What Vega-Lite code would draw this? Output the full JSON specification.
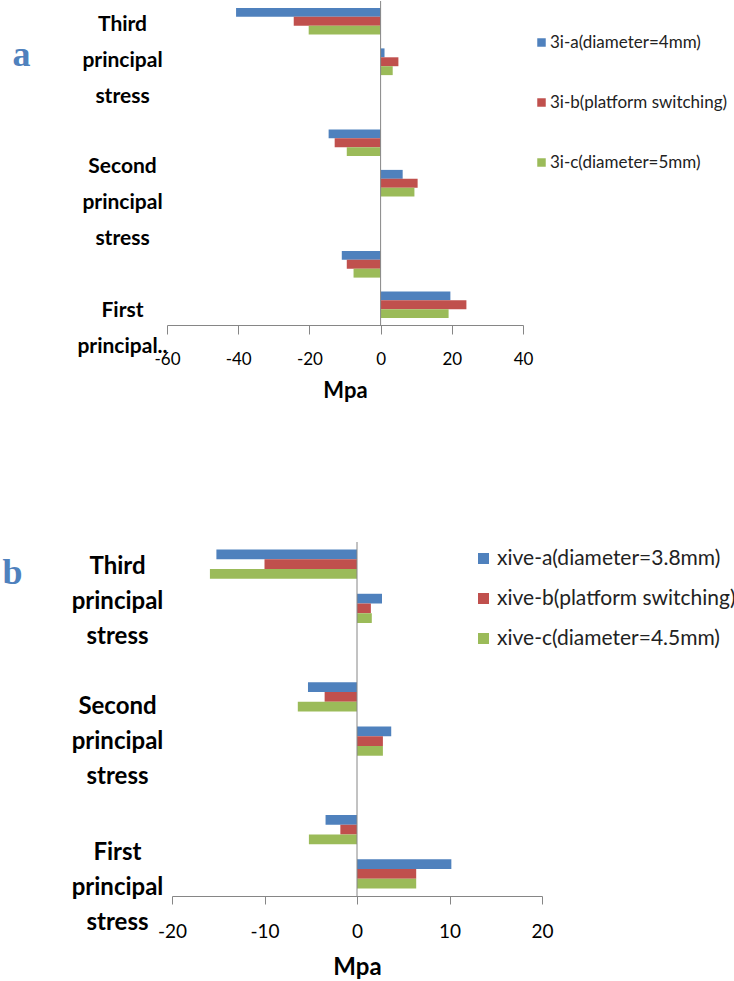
{
  "$schema": "https://vega.github.io/schema/vega-lite/v6.json",
  "background": "white",
  "padding": {"left": 2, "top": 0, "right": 0, "bottom": 0},
  "config": {"view": {"stroke": null}, "font": "Lato"},
  "spacing": 140,
  "resolve": {
    "scale": {"x": "independent", "y": "independent", "yOffset": "independent", "color": "independent"},
    "legend": {"color": "independent"},
    "axis": {"x": "independent", "y": "independent"}
  },
  "vconcat": [
    {
      "width": 356,
      "height": 324,
      "layer": [
        {
          "data": {"values": [
            {"slot": "Third/min", "series": "3i-a(diameter=4mm)", "value": -40.6},
            {"slot": "Third/min", "series": "3i-b(platform switching)", "value": -24.4},
            {"slot": "Third/min", "series": "3i-c(diameter=5mm)", "value": -20.2},
            {"slot": "Third/max", "series": "3i-a(diameter=4mm)", "value": 1.1},
            {"slot": "Third/max", "series": "3i-b(platform switching)", "value": 5.0},
            {"slot": "Third/max", "series": "3i-c(diameter=5mm)", "value": 3.4},
            {"slot": "Second/min", "series": "3i-a(diameter=4mm)", "value": -14.6},
            {"slot": "Second/min", "series": "3i-b(platform switching)", "value": -12.9},
            {"slot": "Second/min", "series": "3i-c(diameter=5mm)", "value": -9.5},
            {"slot": "Second/max", "series": "3i-a(diameter=4mm)", "value": 6.2},
            {"slot": "Second/max", "series": "3i-b(platform switching)", "value": 10.4},
            {"slot": "Second/max", "series": "3i-c(diameter=5mm)", "value": 9.5},
            {"slot": "First/min", "series": "3i-a(diameter=4mm)", "value": -10.9},
            {"slot": "First/min", "series": "3i-b(platform switching)", "value": -9.5},
            {"slot": "First/min", "series": "3i-c(diameter=5mm)", "value": -7.6},
            {"slot": "First/max", "series": "3i-a(diameter=4mm)", "value": 19.6},
            {"slot": "First/max", "series": "3i-b(platform switching)", "value": 24.1},
            {"slot": "First/max", "series": "3i-c(diameter=5mm)", "value": 19.1}
          ]},
          "mark": {"type": "bar"},
          "encoding": {
            "y": {
              "field": "slot", "type": "nominal",
              "scale": {"domain": ["Third/min", "Third/max", "gap1", "Second/min", "Second/max", "gap2", "First/min", "First/max"], "paddingInner": 0.34, "paddingOuter": 0.17},
              "axis": {
                "title": "a", "titleAngle": 0, "titleAlign": "left", "titleBaseline": "alphabetic",
                "titleX": -155, "titleY": 64, "titleFont": "Liberation Serif", "titleFontSize": 36, "titleFontWeight": "bold", "titleColor": "#4F81BD",
                "domain": false, "ticks": false, "tickSize": 0, "grid": false,
                "labelAlign": "center", "labelBaseline": "middle", "labelPadding": 45,
                "labelFont": "Lato", "labelFontSize": 21, "labelFontWeight": "bold", "labelColor": "#000000",
                "labelLineHeight": 36, "labelLimit": 300,
                "labelExpr": "datum.value == 'Third/max' ? ['Third', 'principal', 'stress'] : datum.value == 'Second/max' ? ['Second', 'principal', 'stress'] : datum.value == 'First/max' ? ['First', 'principal..'] : ''",
                "labelOffset": {"condition": [{"test": "datum.value == 'Third/max'", "value": -37}, {"test": "datum.value == 'Second/max'", "value": -16}, {"test": "datum.value == 'First/max'", "value": 6}], "value": 0}
              }
            },
            "yOffset": {"field": "series", "type": "nominal", "scale": {"paddingInner": 0, "paddingOuter": 0}},
            "x": {
              "field": "value", "type": "quantitative",
              "scale": {"domain": [-60, 40], "nice": false, "zero": false},
              "axis": {
                "values": [-60, -40, -20, 0, 20, 40], "labelExpr": "datum.value + ''", "labelFlush": false,
                "grid": false, "domainColor": "#868686", "tickColor": "#868686", "tickSize": 9,
                "labelFont": "Lato", "labelFontSize": 17, "labelColor": "#000000", "labelPadding": 17,
                "title": "Mpa", "titleFont": "Lato", "titleFontSize": 22, "titleFontWeight": "bold", "titleColor": "#000000", "titlePadding": 13
              }
            },
            "color": {
              "field": "series", "type": "nominal",
              "scale": {"domain": ["3i-a(diameter=4mm)", "3i-b(platform switching)", "3i-c(diameter=5mm)"], "range": ["#4F81BD", "#C0504D", "#9BBB59"]},
              "legend": {"title": null, "orient": "none", "legendX": 366, "legendY": 33, "direction": "vertical", "symbolType": "square", "symbolSize": 72, "symbolStrokeWidth": 0, "symbolOpacity": 1, "labelFont": "Lato", "labelFontSize": 17, "labelColor": "#222222", "rowPadding": 42, "labelOffset": 0, "labelLimit": 400}
            }
          }
        },
        {
          "data": {"values": [{}]},
          "mark": {"type": "rule", "color": "#868686", "strokeWidth": 1},
          "encoding": {"x": {"datum": 0}}
        }
      ]
    },
    {
      "width": 375,
      "height": 354,
      "layer": [
        {
          "data": {"values": [
            {"slot": "Third/min", "series": "xive-a(diameter=3.8mm)", "value": -15.2},
            {"slot": "Third/min", "series": "xive-b(platform switching)", "value": -10.0},
            {"slot": "Third/min", "series": "xive-c(diameter=4.5mm)", "value": -15.9},
            {"slot": "Third/max", "series": "xive-a(diameter=3.8mm)", "value": 2.7},
            {"slot": "Third/max", "series": "xive-b(platform switching)", "value": 1.5},
            {"slot": "Third/max", "series": "xive-c(diameter=4.5mm)", "value": 1.6},
            {"slot": "Second/min", "series": "xive-a(diameter=3.8mm)", "value": -5.3},
            {"slot": "Second/min", "series": "xive-b(platform switching)", "value": -3.5},
            {"slot": "Second/min", "series": "xive-c(diameter=4.5mm)", "value": -6.4},
            {"slot": "Second/max", "series": "xive-a(diameter=3.8mm)", "value": 3.7},
            {"slot": "Second/max", "series": "xive-b(platform switching)", "value": 2.8},
            {"slot": "Second/max", "series": "xive-c(diameter=4.5mm)", "value": 2.8},
            {"slot": "First/min", "series": "xive-a(diameter=3.8mm)", "value": -3.4},
            {"slot": "First/min", "series": "xive-b(platform switching)", "value": -1.8},
            {"slot": "First/min", "series": "xive-c(diameter=4.5mm)", "value": -5.2},
            {"slot": "First/max", "series": "xive-a(diameter=3.8mm)", "value": 10.2},
            {"slot": "First/max", "series": "xive-b(platform switching)", "value": 6.4},
            {"slot": "First/max", "series": "xive-c(diameter=4.5mm)", "value": 6.4}
          ]},
          "mark": {"type": "bar"},
          "encoding": {
            "y": {
              "field": "slot", "type": "nominal",
              "scale": {"domain": ["Third/min", "Third/max", "gap1", "Second/min", "Second/max", "gap2", "First/min", "First/max"], "paddingInner": 0.34, "paddingOuter": 0.17},
              "axis": {
                "title": "b", "titleAngle": 0, "titleAlign": "left", "titleBaseline": "alphabetic",
                "titleX": -165, "titleY": 41, "titleFont": "Liberation Serif", "titleFontSize": 36, "titleFontWeight": "bold", "titleColor": "#4F81BD",
                "domain": false, "ticks": false, "tickSize": 0, "grid": false,
                "labelAlign": "center", "labelBaseline": "middle", "labelPadding": 50,
                "labelFont": "Lato", "labelFontSize": 24, "labelFontWeight": "bold", "labelColor": "#000000",
                "labelLineHeight": 35, "labelLimit": 300,
                "labelExpr": "datum.value == 'Third/max' ? ['Third', 'principal', 'stress'] : datum.value == 'Second/max' ? ['Second', 'principal', 'stress'] : datum.value == 'First/max' ? ['First', 'principal', 'stress'] : ''",
                "labelOffset": {"condition": [{"test": "datum.value == 'Third/max'", "value": -41}, {"test": "datum.value == 'Second/max'", "value": -34}, {"test": "datum.value == 'First/max'", "value": -21}], "value": 0}
              }
            },
            "yOffset": {"field": "series", "type": "nominal", "scale": {"paddingInner": 0, "paddingOuter": 0}},
            "x": {
              "field": "value", "type": "quantitative",
              "scale": {"domain": [-20, 20], "nice": false, "zero": false, "range": [5, 375]},
              "axis": {
                "values": [-20, -10, 0, 10, 20], "labelExpr": "datum.value + ''", "labelFlush": false,
                "grid": false, "domainColor": "#868686", "tickColor": "#868686", "tickSize": 8,
                "labelFont": "Lato", "labelFontSize": 19, "labelColor": "#000000", "labelPadding": 18,
                "title": "Mpa", "titleFont": "Lato", "titleFontSize": 24, "titleFontWeight": "bold", "titleColor": "#000000", "titlePadding": 14
              }
            },
            "color": {
              "field": "series", "type": "nominal",
              "scale": {"domain": ["xive-a(diameter=3.8mm)", "xive-b(platform switching)", "xive-c(diameter=4.5mm)"], "range": ["#4F81BD", "#C0504D", "#9BBB59"]},
              "legend": {"title": null, "orient": "none", "legendX": 306, "legendY": 6, "direction": "vertical", "symbolType": "square", "symbolSize": 121, "symbolStrokeWidth": 0, "symbolOpacity": 1, "labelFont": "Lato", "labelFontSize": 21, "labelColor": "#222222", "rowPadding": 18, "labelOffset": 3, "labelLimit": 400}
            }
          }
        },
        {
          "data": {"values": [{}]},
          "mark": {"type": "rule", "color": "#868686", "strokeWidth": 1},
          "encoding": {"x": {"datum": 0}}
        }
      ]
    }
  ]
}
